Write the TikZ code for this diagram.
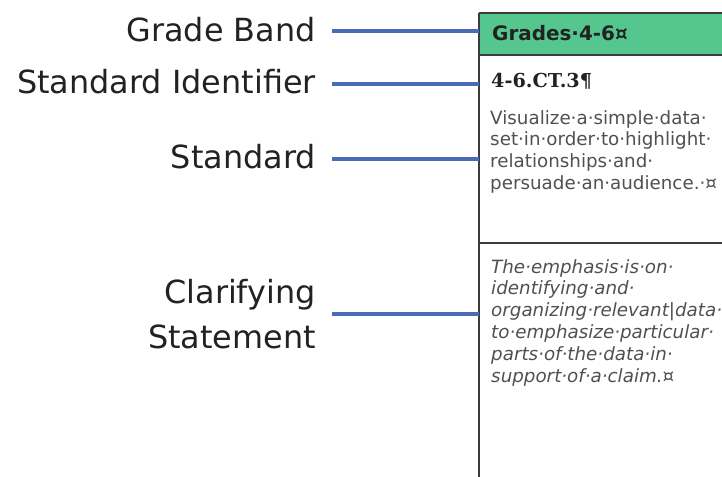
\documentclass[tikz,border=0pt]{standalone}
\usepackage{fontspec}
\setmainfont{DejaVu Sans}
\newfontfamily\idfont{DejaVu Serif}
\definecolor{linkblue}{RGB}{74,107,181}
\definecolor{bandgreen}{RGB}{84,198,142}
\definecolor{labelgray}{RGB}{34,34,34}
\definecolor{bodygray}{RGB}{80,80,80}
\definecolor{rulegray}{RGB}{60,60,60}
\begin{document}
\begin{tikzpicture}[x=0.03cm,y=-0.03cm,line join=round,
		lbl/.style={inner sep=0pt,text=labelgray,font=\fontsize{27.2}{38}\selectfont},
		link/.style={draw=linkblue,line width=2.6pt,shorten <=13.6pt},
		stdtext/.style={anchor=base west,inner sep=0pt,text=bodygray,font=\fontsize{15.6}{21}\selectfont},
		clartext/.style={stdtext,font=\fontsize{15.6}{21}\selectfont\itshape}]
		\useasboundingbox (0,0) rectangle (722,477);
		\clip (0,0) rectangle (722,477);
		% the cell
		\fill[bandgreen] (479,13) rectangle (730,55);
		\draw[rulegray,line width=1.4pt] (479,13)--(730,13);
		\draw[rulegray,line width=2.4pt] (479,55)--(730,55);
		\draw[rulegray,line width=1.2pt] (479,243)--(730,243);
		\draw[rulegray,line width=1.4pt] (479,13)--(479,480);
		\node[stdtext,text=labelgray,font=\fontsize{17}{21}\selectfont\bfseries] (band) at (492,40) {Grades·4-6¤};
		\node[stdtext,text=labelgray,font=\fontsize{16.4}{21}\idfont\bfseries] (ident) at (491,87) {4-6.CT.3¶};
		\foreach \t [count=\i] in {Visualize·a·simple·data·,set·in·order·to·highlight·,relationships·and·,persuade·an·audience.·¤}
			\node[stdtext] (std\i) at (490,{124+21.7*(\i-1)}) {\t};
		\foreach \t [count=\i] in {The·emphasis·is·on·,identifying·and·,organizing·relevant|data·,to·emphasize·particular·,parts·of·the·data·in·,support·of·a·claim.¤}
			\node[clartext] (clar\i) at (491,{273+21.8*(\i-1)}) {\t};
		% labels on the left
		\node[lbl,anchor=base east] (gband) at (316,41) {Grade Band};
		\node[lbl,anchor=base east] (sident) at (316,93) {Standard Identifier};
		\node[lbl,anchor=base east] (stand) at (316,168) {Standard};
		\node[lbl,anchor=east,align=right] (cstate) at (316,314) {Clarifying\\Statement};
		\coordinate (gb) at (479,31);
		\coordinate (si) at (479,84);
		\coordinate (st) at (479,159);
		\coordinate (cs) at (479,314);
		\draw[link] (gband.east |- gb)--(gb);
		\draw[link] (sident.east |- si)--(si);
		\draw[link] (stand.east |- st)--(st);
		\draw[link] (cstate.east |- cs)--(cs);
\end{tikzpicture}
\end{document}
